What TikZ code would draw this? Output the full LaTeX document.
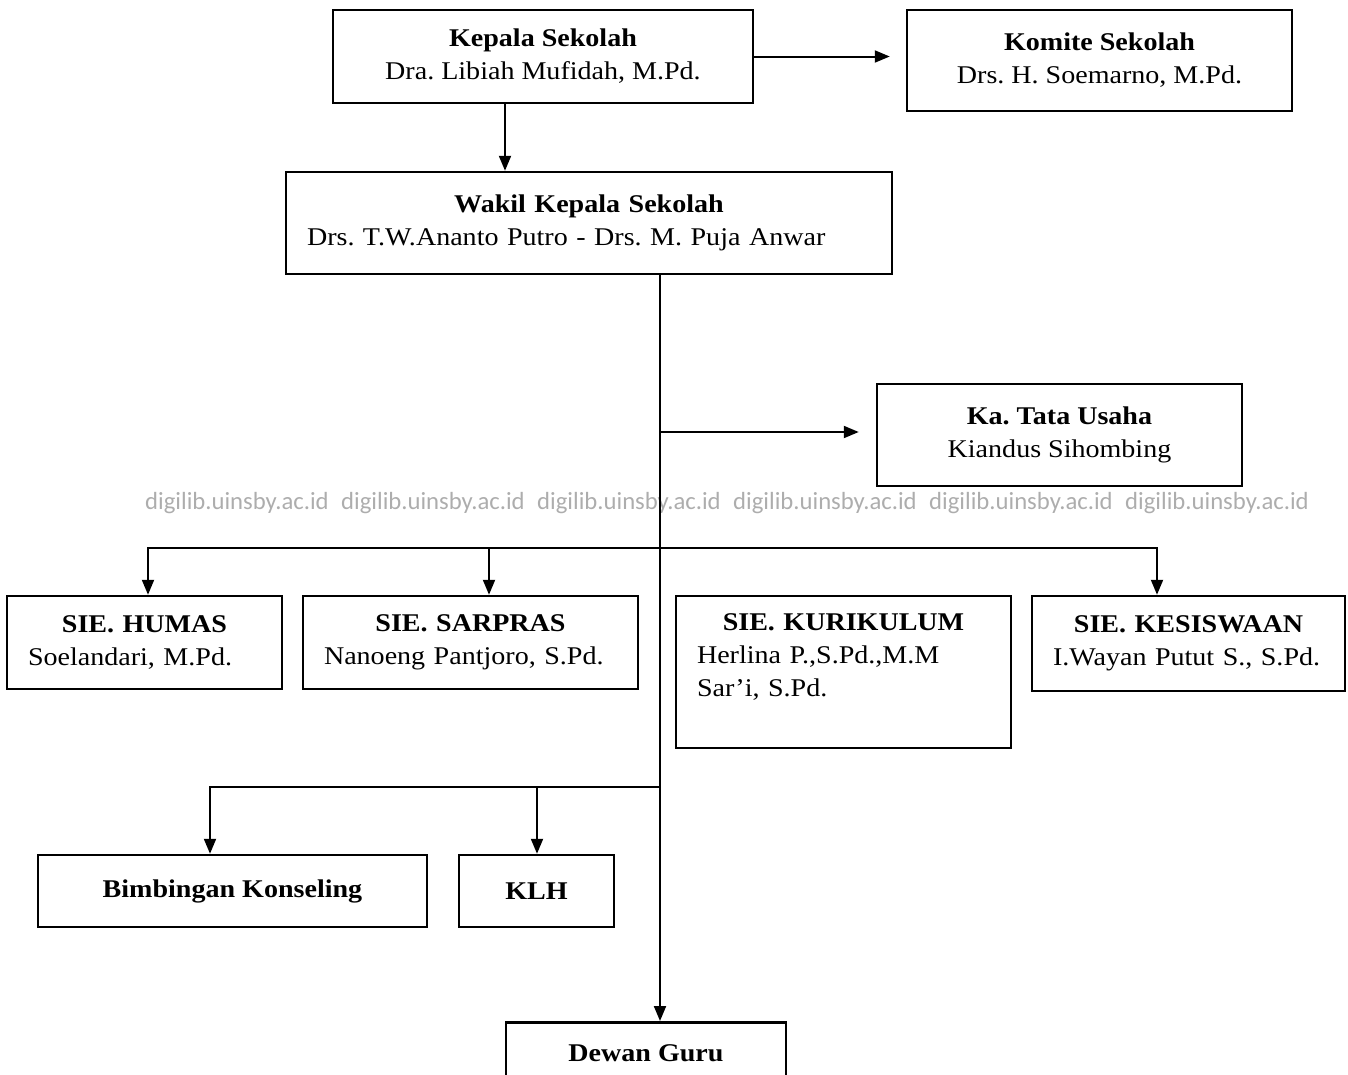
\documentclass[tikz,border=0pt]{standalone}
\usepackage{fontspec}
\setmainfont{Liberation Serif}[FakeStretch=1.1]
\newfontfamily\wmfont{Carlito}
\usetikzlibrary{arrows.meta}
\frenchspacing

\tikzset{
  box/.style={draw, line width=2.5pt, rectangle, inner sep=0pt, align=center,
              font=\fontsize{25.5}{33}\selectfont},
  siebox/.style={box, align=left},
  link/.style={line width=2pt, -{Triangle[length=15pt,width=12pt]}},
  wmark/.style={anchor=west, inner sep=0pt, text=black!32,
                font=\wmfont\fontsize{24.7}{26}\selectfont}
}

\begin{document}
\begin{tikzpicture}[x=1pt,y=-1pt]

  \useasboundingbox (0,0) rectangle (1348,1074);
  \clip (0,0) rectangle (1348,1074);

  % watermark line
  \foreach \i in {0,...,5}
  {
       \node[wmark] (wm\i) at ({145+196*\i},503) {digilib.uinsby.ac.id};
  }

  % head and committee
  \node[box, minimum width=420, minimum height=93] (kepala) at (543,56.5)
       {\textbf{Kepala Sekolah}\\Dra. Libiah Mufidah, M.Pd.};
  \node[box, minimum width=385, minimum height=101] (komite) at (1099.5,60.5)
       {\textbf{Komite Sekolah}\\Drs. H. Soemarno, M.Pd.};

  % deputies
  \node[siebox, text width=564, minimum width=606, minimum height=102] (wakil) at (589,223)
       {\hfill\textbf{Wakil Kepala Sekolah}\hfill\null\\Drs. T.W.Ananto Putro - Drs. M. Puja Anwar};

  % administration
  \node[box, minimum width=365, minimum height=102] (tata) at (1059.5,435)
       {\textbf{Ka. Tata Usaha}\\Kiandus Sihombing};

  % sections
  \node[siebox, text width=233, minimum width=275, minimum height=93] (humas) at (144.5,642.5)
       {\hfill\textbf{SIE. HUMAS}\hfill\null\\Soelandari, M.Pd.};
  \node[siebox, text width=293, minimum width=335, minimum height=93] (sarpras) at (470.5,642.5)
       {\hfill\textbf{SIE. SARPRAS}\hfill\null\\Nanoeng Pantjoro, S.Pd.};
  \node[siebox, text width=293, minimum width=335, minimum height=152] (kurikulum) at (843.5,672)
       {\hfill\textbf{SIE. KURIKULUM}\hfill\null\\Herlina P.,S.Pd.,M.M\\Sar’i, S.Pd.\\\null};
  \node[siebox, text width=271, minimum width=313, minimum height=95] (kesiswaan) at (1188.5,643.5)
       {\hfill\textbf{SIE. KESISWAAN}\hfill\null\\I.Wayan Putut S., S.Pd.};

  % lower units
  \node[box, minimum width=389, minimum height=72] (bk) at (232.5,891) {\textbf{Bimbingan Konseling}};
  \node[box, minimum width=155, minimum height=72] (klh) at (536.5,891) {\textbf{KLH}};
  \node[box, minimum width=280, minimum height=62, anchor=north] (dewan) at (646,1021) {\textbf{Dewan Guru}};

  % main spine and branch levels
  \coordinate (spine) at (660,274);
  \coordinate (busA) at (0,548);
  \coordinate (busB) at (0,787);
  \coordinate (tatajoin) at (660,432);

  \draw[link, shorten >=16pt] (kepala.east) -- (kepala.east -| komite.west);
  \draw[link] ([xshift=-38pt]kepala.south) -- ([xshift=-38pt]kepala.south |- wakil.north);
  \draw[link] (spine) -- (spine |- dewan.north);
  \draw[link, shorten >=17pt] (tatajoin) -- (tatajoin -| tata.west);

  \foreach \t/\dx in {humas/3.5, sarpras/18.5, kesiswaan/-31.5}
  {
       \draw[link] (spine |- busA) -| ([xshift=\dx pt]\t.north);
  }
  \foreach \t/\dx in {bk/-22.5, klh/0.5}
  {
       \draw[link] (spine |- busB) -| ([xshift=\dx pt]\t.north);
  }

\end{tikzpicture}
\end{document}
